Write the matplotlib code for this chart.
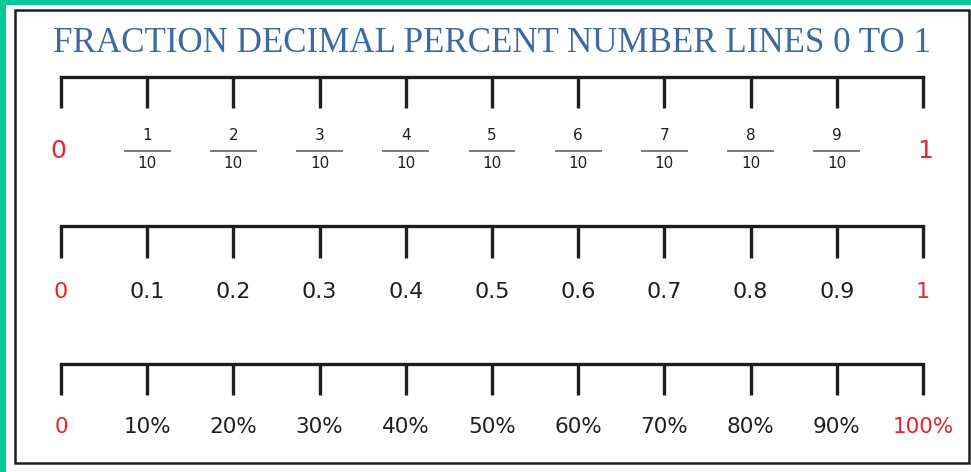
import matplotlib.pyplot as plt
from matplotlib.patches import Rectangle

W, H = 971, 472
GREEN, RED, BLUE, INK = "#00C896", "#E8232B", "#3C69A3", "#1E1E1E"

TITLE = "FRACTION DECIMAL PERCENT NUMBER LINES 0 TO 1"
ticks = [0.0, 0.1, 0.2, 0.3, 0.4, 0.5, 0.6, 0.7, 0.8, 0.9, 1.0]
numerators = ["1", "2", "3", "4", "5", "6", "7", "8", "9"]
denominator = "10"
decimals = ["0", "0.1", "0.2", "0.3", "0.4", "0.5", "0.6", "0.7", "0.8", "0.9", "1"]
percents = ["0", "10%", "20%", "30%", "40%", "50%", "60%", "70%", "80%", "90%", "100%"]

# pixel layout: value 0 at x=61, value 1 at x=923
X0, X1 = 61, 923
span = X1 - X0

fig = plt.figure(figsize=(W / 100, H / 100), dpi=100)
fig.patch.set_facecolor("white")
ax = fig.add_axes([0, 0, 1, 1]); ax.set_axis_off()
ax.set_xlim(-X0 / span, (W - X0) / span)
ax.set_ylim(H, 0)

# green frame strips and black box (figure pixels)
fig.patches.append(Rectangle((0, 0), 6 / W, 1, transform=fig.transFigure,
                             facecolor=GREEN, edgecolor="none"))
fig.patches.append(Rectangle((0, 1 - 5 / H), 1, 5 / H, transform=fig.transFigure,
                             facecolor=GREEN, edgecolor="none"))
fig.patches.append(Rectangle((15 / W, 1 - 463 / H), 954 / W, 453 / H,
                             transform=fig.transFigure, facecolor="none",
                             edgecolor=INK, linewidth=1.8))

# title, fitted to width
t = ax.text(0.5, 0.5, TITLE, transform=fig.transFigure, ha="center",
            va="baseline", fontsize=24, color=BLUE, family="Liberation Serif")
fig.canvas.draw()
w = t.get_window_extent().width
t.set_fontsize(24 * 880 / w)
t.set_position((492 / W, 1 - 52 / H))


def number_line(y, tick_len=31):
    ax.plot([ticks[0], ticks[-1]], [y, y], color=INK, lw=2.4,
            solid_capstyle="projecting")
    for v in ticks:
        ax.plot([v, v], [y, y + tick_len], color=INK, lw=2.4,
                solid_capstyle="butt")


# line 1: fractions
number_line(77)
for v, n in zip(ticks[1:-1], numerators):
    ax.text(v, 136, n, ha="center", va="center", fontsize=11, color=INK)
    ax.plot([v - 0.026, v + 0.026], [151, 151], color="#7A7A7A", lw=1.4)
    ax.text(v, 164, denominator, ha="center", va="center", fontsize=11, color=INK)
ax.text(ticks[0] - 0.003, 151, "0", ha="center", va="center", fontsize=18, color=RED)
ax.text(ticks[-1] + 0.003, 151, "1", ha="center", va="center", fontsize=18, color=RED)

# line 2: decimals
number_line(226, 32)
for i, (v, s) in enumerate(zip(ticks, decimals)):
    c = RED if i in (0, len(ticks) - 1) else INK
    ax.text(v, 292, s, ha="center", va="center", fontsize=16, color=c)

# line 3: percents
number_line(364, 31)
for i, (v, s) in enumerate(zip(ticks, percents)):
    c = RED if i in (0, len(ticks) - 1) else INK
    ax.text(v, 427, s, ha="center", va="center", fontsize=15.5, color=c)

fig.savefig("out.png", dpi=100, facecolor="white")
